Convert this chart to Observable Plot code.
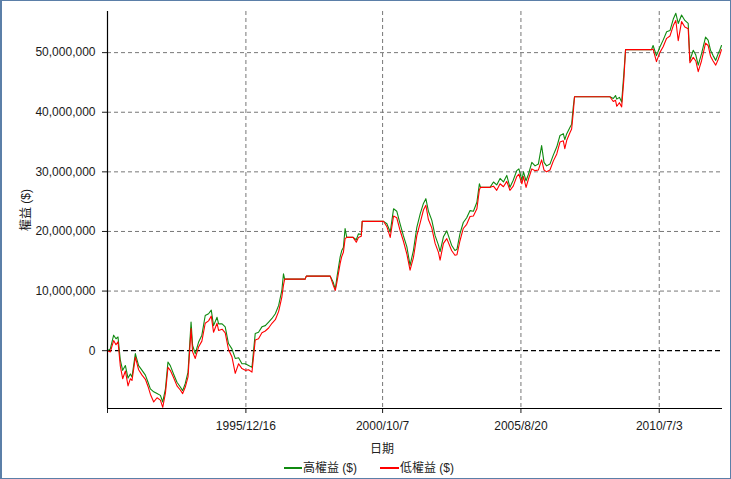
<!DOCTYPE html>
<html>
<head>
<meta charset="utf-8">
<script src="https://cdn.jsdelivr.net/npm/d3@7"></script>
<script src="https://cdn.jsdelivr.net/npm/@observablehq/plot@0.6"></script>
<style>
  html, body { margin: 0; padding: 0; background: #fff; }
  #wrap { position: relative; width: 731px; height: 479px; overflow: hidden; background: #fff;
          font-family: "Liberation Sans", "Noto Sans CJK TC", sans-serif; }
  #wrap svg { position: absolute; left: 0; top: 0; }
  #border { position: absolute; left: 0; top: 0; width: 731px; height: 479px; box-sizing: border-box;
            border: 1px solid #5b7fa8; border-left-width: 2px; pointer-events: none; }
  .lbl { position: absolute; font-size: 12px; color: #222; white-space: nowrap; line-height: 14px; }
  .sw { position: absolute; height: 1.5px; }
</style>
</head>
<body>
<div id="wrap">
  <div class="lbl" id="xlabel" style="left:370px; top:441px; font-family:'Noto Sans CJK TC',sans-serif;">日期</div>
  <div class="sw" style="left:284px; top:467px; width:18px; background:#108a10;"></div>
  <div class="lbl" style="left:303px; top:460px;"><span style="font-family:'Noto Sans CJK TC'">高權益</span> ($)</div>
  <div class="sw" style="left:380px; top:467px; width:19px; background:#ff0000;"></div>
  <div class="lbl" style="left:400px; top:460px;"><span style="font-family:'Noto Sans CJK TC'">低權益</span> ($)</div>
  <div id="border"></div>
</div>
<script>
// ---- data (values in millions of $) ----
const dates = [
"1991-02-01","1991-03-09","1991-04-21","1991-05-21","1991-06-16","1991-07-16","1991-08-15","1991-09-19","1991-10-23","1991-11-22",
"1991-12-13","1992-01-25","1992-03-07","1992-04-20","1992-06-02","1992-07-06","1992-08-05","1992-09-17","1992-10-30","1992-12-12",
"1993-01-11","1993-02-15","1993-03-19","1993-04-18","1993-05-30","1993-07-13","1993-08-25","1993-09-24","1993-10-28","1993-12-02",
"1994-01-10","1994-01-30","1994-03-05","1994-04-16","1994-05-29","1994-07-11","1994-08-23","1994-09-27","1994-10-26","1994-12-10",
"1994-12-30","1995-02-13","1995-03-25","1995-05-06","1995-06-19","1995-08-01","1995-09-13","1995-10-26","1995-12-08","1996-01-20",
"1996-03-03","1996-04-14","1996-05-26","1996-07-09","1996-08-21","1996-10-03","1996-11-15","1996-12-28","1997-02-09","1997-03-22",
"1997-04-12","1997-04-27","1998-01-16","1998-01-30","1998-12-04","1999-01-11","1999-02-07","1999-02-28","1999-04-10","1999-05-01",
"1999-05-22","1999-06-13","1999-07-04","1999-09-24","1999-11-04","1999-12-01","2000-01-07","2000-01-19","2000-10-19","2000-12-01",
"2001-01-13","2001-02-25","2001-04-07","2001-05-19","2001-07-01","2001-08-15","2001-09-25","2001-11-07","2001-12-21","2002-02-03",
"2002-03-16","2002-04-16","2002-05-19","2002-07-01","2002-08-13","2002-09-25","2002-10-16","2002-11-28","2003-01-10","2003-03-13",
"2003-04-25","2003-05-21","2003-06-28","2003-08-10","2003-09-23","2003-11-05","2003-12-18","2004-02-01","2004-03-04","2004-03-19",
"2004-07-19","2004-09-01","2004-10-13","2004-11-25","2005-01-07","2005-02-19","2005-04-01","2005-05-13","2005-06-27","2005-07-25",
"2005-09-01","2005-09-22","2005-10-25","2005-11-25","2006-01-07","2006-02-18","2006-04-01","2006-05-13","2006-06-13","2006-07-16",
"2006-08-28","2006-10-10","2006-11-24","2007-01-04","2007-02-16","2007-03-07","2007-04-01","2007-05-13","2007-06-03","2007-06-24",
"2007-07-10","2008-10-07","2008-11-19","2008-12-18","2009-01-03","2009-02-06","2009-03-07","2009-04-04","2009-04-26","2010-03-25",
"2010-04-15","2010-05-28","2010-07-10","2010-08-22","2010-10-06","2010-11-18","2011-01-01","2011-02-01","2011-03-04","2011-04-16",
"2011-05-28","2011-07-10","2011-08-01","2011-09-13","2011-10-16","2011-11-16","2011-12-28","2012-02-18","2012-03-22","2012-04-22",
"2012-05-25","2012-06-28","2012-07-28","2012-08-19","2012-09-10"
];
const highM = [
0,0.3,2.6,2.0,2.3,-1.6,-3.3,-2.5,-4.6,-3.9,
-4.4,-0.5,-2.5,-3.3,-4.1,-5.3,-6.4,-6.9,-7.2,-7.5,
-8.6,-6.4,-1.9,-2.5,-3.9,-5.3,-6.1,-6.7,-5.5,-3.6,
4.8,0.9,-0.5,1.4,2.6,5.9,6.2,6.8,4.2,5.6,
4.5,4.5,4.0,1.2,0.3,-1.3,-1.2,-2.2,-2.2,-2.5,
-2.8,2.9,3.1,4.0,4.2,4.8,5.4,6.2,7.6,10.1,
12.9,12.0,12.0,12.5,12.5,11.5,10.3,12.3,15.7,16.8,
17.3,20.5,19.0,19.0,18.6,19.6,19.5,21.7,21.7,21.3,
19.9,23.8,23.4,21.3,19.3,17.4,14.3,16.8,20.7,23.0,
24.7,25.5,23.4,21.9,19.3,17.7,16.6,19.1,20.1,17.7,
16.8,17.0,19.6,21.5,22.3,23.5,23.4,24.9,28.0,27.4,
27.4,28.3,27.8,28.9,28.3,29.4,27.4,28.6,30.2,30.5,
28.6,30.0,28.5,29.6,31.6,31.0,31.3,34.4,31.6,31.0,
31.3,32.8,34.2,36.1,36.4,35.4,36.4,37.5,38.0,40.9,
42.6,42.6,42.3,42.8,42.2,42.5,41.7,46.5,50.5,50.5,
51.2,49.5,50.9,52.1,53.5,53.7,55.7,56.6,54.9,56.3,
55.4,54.9,48.7,50.4,49.6,47.9,49.8,52.6,52.1,50.4,
49.5,48.7,49.8,50.4,51.2
];
const lowM = [
0,-0.2,1.7,1.0,1.5,-2.6,-4.7,-3.4,-5.9,-4.7,
-5.0,-1.1,-3.2,-4.1,-4.8,-6.0,-7.3,-8.6,-7.9,-8.3,
-9.5,-7.1,-2.8,-3.3,-4.5,-5.9,-6.6,-7.2,-6.1,-4.4,
3.7,-0.2,-1.3,0.6,1.6,4.6,5.0,5.8,3.1,4.6,
3.4,3.6,3.0,0.2,-1.0,-3.8,-2.2,-3.0,-3.3,-3.2,
-3.6,1.8,2.0,3.0,3.3,3.8,4.6,5.2,6.6,9.0,
11.0,12.0,12.0,12.5,12.5,11.0,10.1,11.5,14.6,15.8,
16.5,18.8,19.0,19.0,18.2,19.0,19.2,21.7,21.7,20.8,
19.0,22.6,22.3,20.2,18.4,16.2,13.5,15.6,19.3,21.5,
23.6,24.4,22.0,20.6,18.0,16.5,15.2,18.0,18.8,16.8,
16.0,16.1,18.4,20.5,21.2,22.5,22.6,23.8,27.0,27.4,
27.4,27.6,26.9,28.0,27.5,28.4,26.9,27.6,29.2,29.6,
28.0,29.2,27.4,28.8,30.5,30.2,30.3,32.0,30.3,30.0,
30.3,31.8,33.0,35.0,35.2,33.9,35.3,36.6,37.2,40.0,
42.6,42.6,41.8,42.0,41.0,41.6,40.9,45.5,50.5,50.5,
50.6,48.5,50.0,51.0,52.4,52.8,54.6,55.4,52.0,55.2,
54.3,54.0,48.3,49.2,48.6,46.8,48.6,51.6,51.2,49.4,
48.6,47.9,48.8,49.6,50.5
];
const yTicks = [0, 10000000, 20000000, 30000000, 40000000, 50000000];
const xTickDates = ["1995-12-16", "2000-10-07", "2005-08-20", "2010-07-03"];
const xDomainDates = ["1991-02-01", "2012-09-23"];
const yDomain = [-9700000, 56900000];

// ---- build ----
const parse = d3.utcParse("%Y-%m-%d");
const rows = dates.map((d, i) => ({date: parse(d), high: highM[i] * 1e6, low: lowM[i] * 1e6}));
const xTicks = xTickDates.map(parse);
const xDom = xDomainDates.map(parse);
const fmtDate = d => `${d.getUTCFullYear()}/${d.getUTCMonth() + 1}/${d.getUTCDate()}`;
const font = "'Liberation Sans', 'Noto Sans CJK TC', sans-serif";

const chart = Plot.plot({
  width: 731,
  height: 479,
  marginLeft: 107,
  marginRight: 9,
  marginTop: 11,
  marginBottom: 71,
  style: {fontFamily: font, fontSize: "12px", color: "#1a1a1a", background: "transparent"},
  x: {type: "utc", domain: xDom},
  y: {domain: yDomain},
  marks: [
    Plot.ruleY(yTicks.filter(v => v !== 0), {stroke: "#777", strokeDasharray: "4,3", strokeWidth: 1}),
    Plot.ruleX(xTicks, {stroke: "#777", strokeDasharray: "4,3", strokeWidth: 1}),
    Plot.ruleY([0], {stroke: "#000", strokeDasharray: "5,3", strokeWidth: 1.2}),
    Plot.line(rows, {x: "date", y: "high", stroke: "#108a10", strokeWidth: 1.1}),
    Plot.line(rows, {x: "date", y: "low", stroke: "#ff0000", strokeWidth: 1.1}),
    Plot.axisY({ticks: yTicks, tickFormat: d3.format(","), tickSize: 5, tickPadding: 7,
                label: "權益 ($)", labelAnchor: "center", labelArrow: "none", labelOffset: 86,
                fontSize: 12}),
    Plot.axisX({ticks: xTicks, tickFormat: fmtDate, tickSize: 5, tickPadding: 8, label: null, fontSize: 12}),
    Plot.axisX({ticks: [xDom[0]], tickFormat: () => "", tickSize: 5, label: null}),
    Plot.ruleX([xDom[0]], {stroke: "#000", strokeWidth: 1.2}),
    Plot.ruleY([yDomain[0]], {stroke: "#000", strokeWidth: 1.2})
  ]
});
document.getElementById("wrap").insertBefore(chart, document.getElementById("wrap").firstChild);
</script>
</body>
</html>
